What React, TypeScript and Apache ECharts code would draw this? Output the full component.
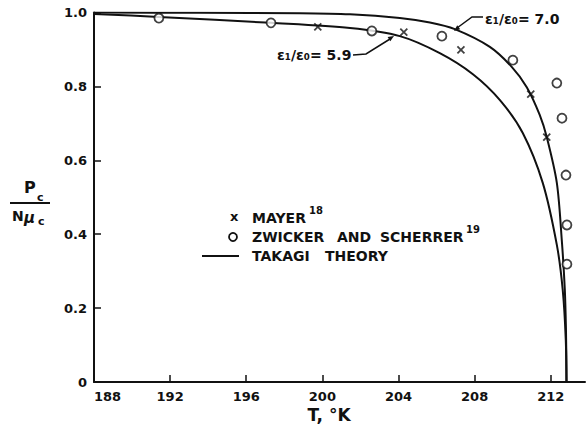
import React, { useEffect, useRef } from "react";
import * as echarts from "echarts";

// Takagi theory, eps1/eps0 = 7.0
const theory70T = [188, 193.57, 198.82, 201.45, 204.07, 205.65, 206.96, 208.8, 209.95, 210.74, 211.42, 211.79, 212.32, 212.58, 212.74, 212.8, 212.83, 212.835];
const theory70P = [1.0, 0.999, 0.998, 0.995, 0.985, 0.973, 0.955, 0.907, 0.853, 0.798, 0.723, 0.663, 0.539, 0.384, 0.249, 0.141, 0.024, 0];
// Takagi theory, eps1/eps0 = 5.9
const theory59T = [188, 191.41, 197.3, 201.45, 204.07, 206.17, 207.91, 209.33, 210.53, 211.58, 212.32, 212.63, 212.79, 212.82];
const theory59P = [0.996, 0.988, 0.972, 0.958, 0.936, 0.89, 0.833, 0.763, 0.674, 0.539, 0.371, 0.249, 0.114, 0];
// Mayer (x)
const mayerT = [199.76, 204.28, 207.28, 210.95, 211.79];
const mayerP = [0.961, 0.947, 0.899, 0.779, 0.663];
// Zwicker and Scherrer (o)
const zwickerT = [191.41, 197.3, 202.6, 206.28, 210.01, 212.32, 212.59, 212.8, 212.85, 212.85];
const zwickerP = [0.985, 0.972, 0.95, 0.936, 0.871, 0.809, 0.714, 0.56, 0.425, 0.319];

const xTicks = [188, 192, 196, 200, 204, 208, 212];

const zip = (a: number[], b: number[]) => a.map((v, i) => [v, b[i]]);

const FONT = "DejaVu Sans";
const INK = "#111";

export default function App() {
  const ref = useRef<HTMLDivElement>(null);
  useEffect(() => {
    if (!ref.current) return;
    const chart = echarts.init(ref.current, undefined, { renderer: "svg" });
    const txt = (x: number, y: number, text: string, size: number, extra: any = {}) => ({
      type: "text",
      x,
      y,
      style: {
        text,
        fontFamily: FONT,
        fontSize: size,
        fontWeight: "bold",
        fill: INK,
        textAlign: "left",
        textVerticalAlign: "middle",
        ...extra,
      },
    });
    chart.setOption({
      animation: false,
      backgroundColor: "#fff",
      grid: { left: 94, right: 1, top: 12.5, bottom: 46, containLabel: false },
      xAxis: {
        type: "value",
        min: 188,
        max: 213.8,
        interval: 4,
        axisLine: { lineStyle: { color: INK, width: 2 } },
        axisTick: { inside: true, length: 7, customValues: xTicks, lineStyle: { color: INK, width: 1.5 } },
        axisLabel: {
          customValues: xTicks,
          color: INK,
          fontFamily: FONT,
          fontSize: 13,
          fontWeight: "bold",
          margin: 8,
          alignMinLabel: "left",
          formatter: (v: number) => (xTicks.includes(Math.round(v * 100) / 100) ? String(v) : ""),
        },
        splitLine: { show: false },
      },
      yAxis: {
        type: "value",
        min: 0,
        max: 1,
        interval: 0.2,
        axisLine: { show: true, lineStyle: { color: INK, width: 2 } },
        axisTick: { show: true, inside: true, length: 7, lineStyle: { color: INK, width: 1.5 } },
        axisLabel: {
          color: INK,
          fontFamily: FONT,
          fontSize: 13,
          fontWeight: "bold",
          margin: 7,
          formatter: (v: number) => (v === 0 ? "0" : v.toFixed(1)),
        },
        splitLine: { show: false },
      },
      series: [
        {
          name: "ε1/ε0 = 7.0",
          type: "line",
          data: zip(theory70T, theory70P),
          showSymbol: false,
          smooth: 0.3,
          lineStyle: { color: INK, width: 2 },
        },
        {
          name: "ε1/ε0 = 5.9",
          type: "line",
          data: zip(theory59T, theory59P),
          showSymbol: false,
          smooth: 0.3,
          lineStyle: { color: INK, width: 2 },
        },
        {
          name: "MAYER",
          type: "scatter",
          data: zip(mayerT, mayerP),
          symbol: "path://M0,0L10,10M10,0L0,10",
          symbolSize: 7,
          itemStyle: { color: "none", borderColor: INK, borderWidth: 1.8 },
        },
        {
          name: "ZWICKER AND SCHERRER",
          type: "scatter",
          data: zip(zwickerT, zwickerP),
          symbol: "circle",
          symbolSize: 9,
          itemStyle: { color: "#fff", borderColor: INK, borderWidth: 1.8 },
          z: 3,
        },
      ],
      graphic: [
        // legend
        txt(230, 216, "x", 13),
        { type: "circle", shape: { cx: 233, cy: 237, r: 4 }, style: { fill: "#fff", stroke: INK, lineWidth: 1.8 } },
        { type: "line", shape: { x1: 202, y1: 256, x2: 239, y2: 256 }, style: { stroke: INK, lineWidth: 2 } },
        txt(252, 218, "MAYER", 14),
        txt(309, 210, "18", 10),
        txt(252, 237, "ZWICKER", 14),
        txt(337, 237, "AND", 14),
        txt(380, 237, "SCHERRER", 14),
        txt(466, 229, "19", 10),
        txt(252, 256, "TAKAGI", 14),
        txt(325, 256, "THEORY", 14),
        // annotations
        txt(485, 19, "ε₁/ε₀= 7.0", 14),
        { type: "polyline", shape: { points: [[483, 17], [472, 17], [457, 28]] }, style: { stroke: INK, lineWidth: 1.5, fill: "none" } },
        { type: "polygon", shape: { points: [[454, 31], [460.2, 29.3], [457.2, 25.3]] }, style: { fill: INK } },
        txt(277, 55, "ε₁/ε₀= 5.9", 14),
        { type: "polyline", shape: { points: [[353, 55], [366, 54], [390, 39]] }, style: { stroke: INK, lineWidth: 1.5, fill: "none" } },
        { type: "polygon", shape: { points: [[394, 36], [390.3, 41.3], [387.6, 37.1]] }, style: { fill: INK } },
        // y-axis title (fraction)
        txt(24, 187, "P", 16),
        txt(37, 197, "c", 11),
        { type: "line", shape: { x1: 10, y1: 203, x2: 50, y2: 203 }, style: { stroke: INK, lineWidth: 1.8 } },
        txt(12, 216, "N", 14),
        txt(24, 218, "μ", 15, { fontStyle: "italic" }),
        txt(38, 221, "c", 11),
        // x-axis title
        txt(329, 415, "T, °K", 17, { textAlign: "center" }),
      ],
    });
    return () => chart.dispose();
  }, []);
  return (
    <div
      ref={ref}
      style={{ position: "absolute", left: 0, top: 0, width: 586, height: 428, background: "#fff" }}
    />
  );
}
